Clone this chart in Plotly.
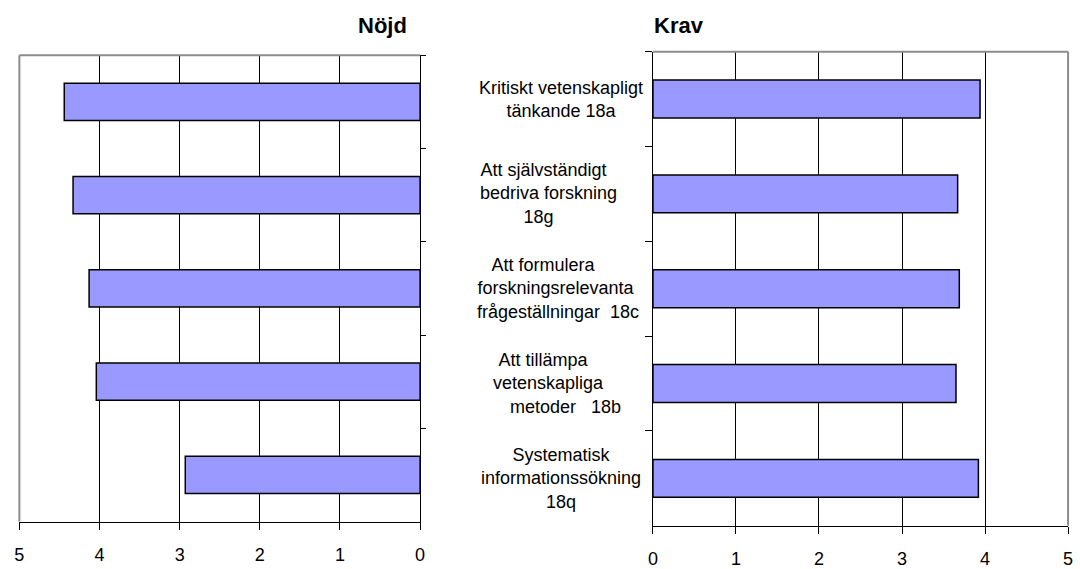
import plotly.graph_objects as go

# ---- data ----
categories = [
    "Kritiskt vetenskapligt tänkande 18a",
    "Att självständigt bedriva forskning 18g",
    "Att formulera forskningsrelevanta frågeställningar 18c",
    "Att tillämpa vetenskapliga metoder 18b",
    "Systematisk informationssökning 18q",
]
# wrapped label lines as shown in the chart
label_lines = [
    ["Kritiskt vetenskapligt", "tänkande 18a"],
    ["Att självständigt", "bedriva forskning", "18g"],
    ["Att formulera", "forskningsrelevanta", "frågeställningar  18c"],
    ["Att tillämpa", "vetenskapliga", "metoder   18b"],
    ["Systematisk", "informationssökning", "18q"],
]
# horizontal padding (leading, trailing) in spaces per line, mimicking the original wrapping
label_pad = [
    [(0, 0), (0, 0)],
    [(0, 7), (0, 5), (0, 9)],
    [(0, 7), (0, 2), (0, 1)],
    [(0, 7), (0, 5), (2, 0)],
    [(0, 0), (0, 0), (0, 0)],
]
nojd = [4.44, 4.33, 4.13, 4.04, 2.93]
krav = [3.94, 3.67, 3.69, 3.65, 3.92]
tick_vals = [0, 1, 2, 3, 4, 5]
titles = ["Nöjd", "Krav"]

FONT = "Liberation Sans, Arial, sans-serif"
BAR_COLOR = "#9999FF"
W, H = 1080, 569

fig = go.Figure()
fig.add_trace(go.Bar(x=nojd, y=categories, orientation="h", xaxis="x", yaxis="y",
                     marker=dict(color=BAR_COLOR, line=dict(color="black", width=1.5)),
                     hoverinfo="x+y"))
fig.add_trace(go.Bar(x=krav, y=categories, orientation="h", xaxis="x2", yaxis="y2",
                     marker=dict(color=BAR_COLOR, line=dict(color="black", width=1.5)),
                     hoverinfo="x+y"))

xcommon = dict(tickvals=tick_vals, ticks="outside", ticklen=7, tickcolor="black",
               showline=True, linecolor="black", linewidth=1,
               showgrid=True, gridcolor="black", gridwidth=1, zeroline=False,
               tickfont=dict(family=FONT, size=18, color="black"),
               ticklabelstandoff=10, fixedrange=True)
ycommon = dict(type="category", categoryorder="array", categoryarray=categories,
               autorange="reversed", showticklabels=False, ticks="outside",
               tickson="boundaries", tickcolor="black", showline=True,
               linecolor="black", linewidth=1, showgrid=False, zeroline=False,
               fixedrange=True)

fig.update_layout(
    width=W, height=H, margin=dict(l=0, r=0, t=0, b=0),
    paper_bgcolor="white", plot_bgcolor="white",
    showlegend=False, bargap=0.6,
    font=dict(family=FONT, color="black"),
    xaxis=dict(domain=[14.5 / W, 419 / W], range=[5, 0], anchor="y", **xcommon),
    yaxis=dict(domain=[1 - 528 / H, 1 - 56 / H], anchor="x", side="right", ticklen=5, **ycommon),
    xaxis2=dict(domain=[654 / W, 1073 / W], range=[0, 5], anchor="y2", **xcommon),
    yaxis2=dict(domain=[1 - 532.3 / H, 1 - 52.3 / H], anchor="x2", side="left", ticklen=7, **ycommon),
)

frame = dict(color="#8c8c8c", width=2)
shapes = [
    # left panel: top and left edges
    dict(type="line", xref="x domain", yref="y domain", x0=0, x1=1, y0=1, y1=1, line=frame),
    dict(type="line", xref="x domain", yref="y domain", x0=0, x1=0, y0=0, y1=1, line=frame),
    # right panel: top and right edges
    dict(type="line", xref="x2 domain", yref="y2 domain", x0=0, x1=1, y0=1, y1=1, line=frame),
    dict(type="line", xref="x2 domain", yref="y2 domain", x0=1, x1=1, y0=0, y1=1, line=frame),
]
fig.update_layout(shapes=shapes)

NB = "\u00a0"
annotations = []
for cat, lines, pads in zip(categories, label_lines, label_pad):
    txt = "<br>".join(NB * a + ln.replace(" ", NB) + NB * b for ln, (a, b) in zip(lines, pads))
    annotations.append(dict(text=txt, xref="paper", yref="y2", x=561 / W, y=cat,
                            xanchor="center", yanchor="middle", align="center",
                            showarrow=False, font=dict(family=FONT, size=18, color="black")))
annotations.append(dict(text="<b>" + titles[0] + "</b>", xref="paper", yref="paper",
                        x=408 / W, y=1 - 25.6 / H, xanchor="right", yanchor="middle",
                        showarrow=False, font=dict(family=FONT, size=22, color="black")))
annotations.append(dict(text="<b>" + titles[1] + "</b>", xref="paper", yref="paper",
                        x=653 / W, y=1 - 25.6 / H, xanchor="left", yanchor="middle",
                        showarrow=False, font=dict(family=FONT, size=22, color="black")))
fig.update_layout(annotations=annotations)

fig.write_html("out.html", config={"displayModeBar": False},
               post_script="document.body.style.margin='0';")
